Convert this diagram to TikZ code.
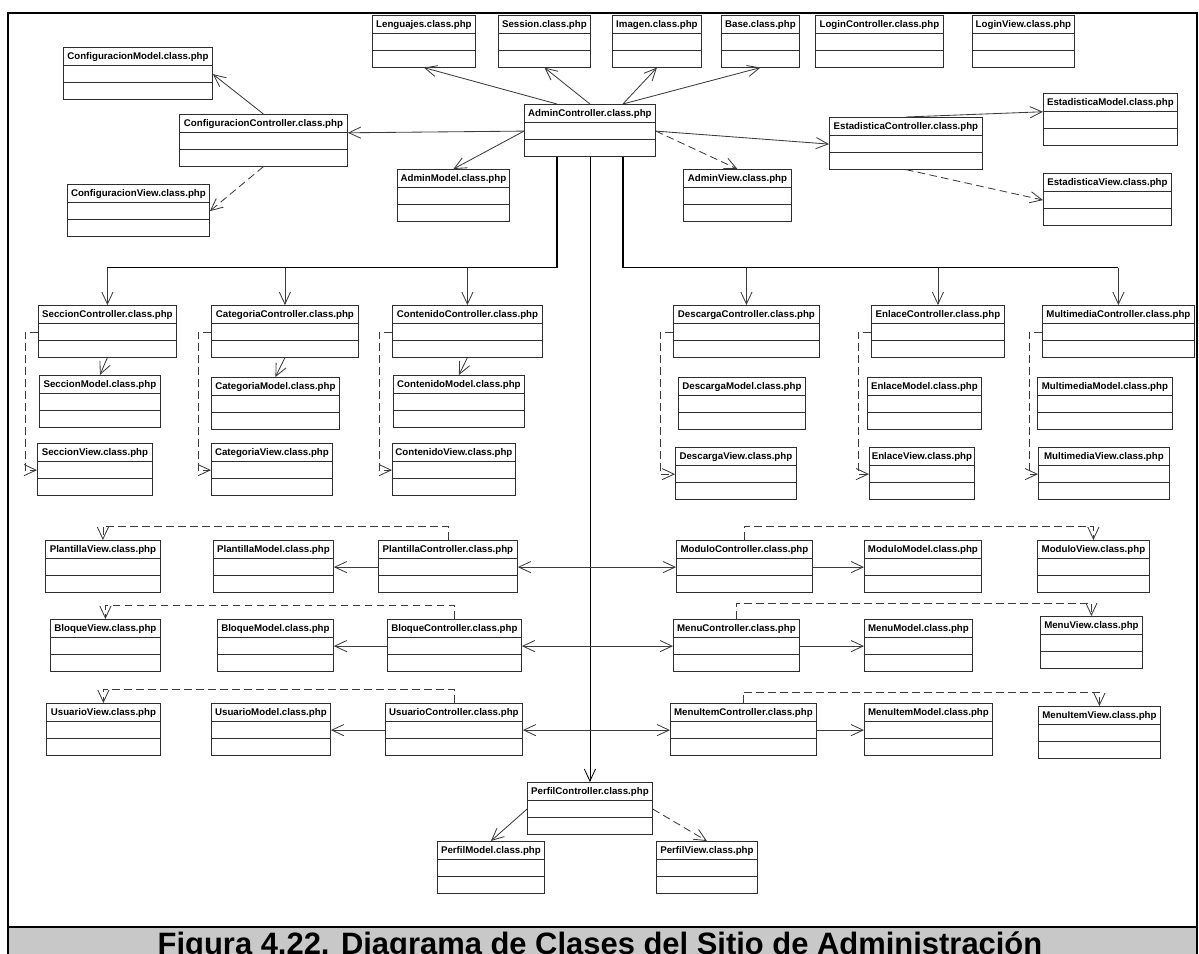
\documentclass[tikz,border=0pt]{standalone}
\usepackage{fontspec}
\setmainfont{Liberation Sans}
\usetikzlibrary{shapes.multipart,arrows.meta,calc}
\definecolor{lineGray}{HTML}{3C3C3C}
\definecolor{boxGray}{HTML}{2E2E2E}
\definecolor{captionGray}{HTML}{C8C8C8}

\begin{document}
\begin{tikzpicture}[
    x=0.25mm, y=-0.25mm,
    cls/.style={rectangle split, rectangle split parts=3, draw=boxGray,
                line width=0.6pt, fill=white, anchor=north west,
                minimum width=#1*0.25mm, inner xsep=1pt, inner ysep=3pt,
                rectangle split empty part height=4.7pt,
                rectangle split empty part depth=0pt,
                font=\bfseries\fontsize{6.9}{8}\selectfont},
    arrow/.style={-{Straight Barb[length=3mm,width=2.8mm]}, draw=lineGray,
                  line width=0.6pt},
    dep/.style={arrow, dash pattern=on 1.9mm off 1.1mm},
    trunk/.style={line width=0.9pt, draw=black},
]
    \useasboundingbox (0,0) rectangle (1199,954);
    % frame and caption band
    \fill[captionGray] (8,927) rectangle (1197,954);
    \draw[line width=1.8pt] (8,954) -- (8,13) -- (1197,13) -- (1197,954);
    \draw[line width=1.6pt] (8,927) -- (1197,927);
    \node[anchor=base, font=\bfseries\fontsize{22}{26}\selectfont] (caption)
         at (600,954) {Figura 4.22. Diagrama de Clases del Sitio de Administración};

    % top row
    \node[cls=103] (lang) at (372,15) {Lenguajes.class.php};
    \node[cls=92] (session) at (498,15) {Session.class.php};
    \node[cls=89] (imagen) at (612,15) {Imagen.class.php};
    \node[cls=78] (base) at (721,15) {Base.class.php};
    \node[cls=128] (loginCtrl) at (815,15) {LoginController.class.php};
    \node[cls=102] (loginView) at (972,15) {LoginView.class.php};

    % admin and neighbours
    \node[cls=131] (adminCtrl) at (524,104) {AdminController.class.php};
    \node[cls=112] (adminModel) at (397,169) {AdminModel.class.php};
    \node[cls=108] (adminView) at (683,169) {AdminView.class.php};
    \node[cls=149] (cfgModel) at (63,47) {ConfiguracionModel.class.php};
    \node[cls=168] (cfgCtrl) at (179,114) {ConfiguracionController.class.php};
    \node[cls=142] (cfgView) at (67,184) {ConfiguracionView.class.php};
    \node[cls=153] (estCtrl) at (829,117) {EstadisticaController.class.php};
    \node[cls=134] (estModel) at (1043,93) {EstadisticaModel.class.php};
    \node[cls=128] (estView) at (1043,173) {EstadisticaView.class.php};

    % column groups
    \node[cls=138] (seccCtrl) at (38,305) {SeccionController.class.php};
    \node[cls=121] (seccModel) at (39,375) {SeccionModel.class.php};
    \node[cls=115] (seccView) at (37,443) {SeccionView.class.php};
    \node[cls=147] (catCtrl) at (211,305) {CategoriaController.class.php};
    \node[cls=128] (catModel) at (211,377) {CategoriaModel.class.php};
    \node[cls=121] (catView) at (211,443) {CategoriaView.class.php};
    \node[cls=150] (contCtrl) at (392,305) {ContenidoController.class.php};
    \node[cls=131] (contModel) at (393,375) {ContenidoModel.class.php};
    \node[cls=123] (contView) at (392,443) {ContenidoView.class.php};
    \node[cls=146] (descCtrl) at (673,305) {DescargaController.class.php};
    \node[cls=127] (descModel) at (678,377) {DescargaModel.class.php};
    \node[cls=121] (descView) at (675,447) {DescargaView.class.php};
    \node[cls=133] (enlCtrl) at (871,305) {EnlaceController.class.php};
    \node[cls=114] (enlModel) at (867,377) {EnlaceModel.class.php};
    \node[cls=105] (enlView) at (869,447) {EnlaceView.class.php};
    \node[cls=152] (multCtrl) at (1042,305) {MultimediaController.class.php};
    \node[cls=135] (multModel) at (1037,377) {MultimediaModel.class.php};
    \node[cls=131] (multView) at (1038,447) {MultimediaView.class.php};

    % row groups
    \node[cls=115] (plView) at (45,540) {PlantillaView.class.php};
    \node[cls=120] (plModel) at (213,540) {PlantillaModel.class.php};
    \node[cls=139] (plCtrl) at (378,540) {PlantillaController.class.php};
    \node[cls=110] (bqView) at (50,619) {BloqueView.class.php};
    \node[cls=116] (bqModel) at (217,619) {BloqueModel.class.php};
    \node[cls=134] (bqCtrl) at (387,619) {BloqueController.class.php};
    \node[cls=114] (usView) at (46,703) {UsuarioView.class.php};
    \node[cls=119] (usModel) at (211,703) {UsuarioModel.class.php};
    \node[cls=137] (usCtrl) at (385,703) {UsuarioController.class.php};
    \node[cls=136] (modCtrl) at (676,540) {ModuloController.class.php};
    \node[cls=117] (modModel) at (864,540) {ModuloModel.class.php};
    \node[cls=112] (modView) at (1037,540) {ModuloView.class.php};
    \node[cls=126] (menuCtrl) at (673,619) {MenuController.class.php};
    \node[cls=108] (menuModel) at (864,619) {MenuModel.class.php};
    \node[cls=102] (menuView) at (1040,616) {MenuView.class.php};
    \node[cls=146] (miCtrl) at (670,703) {MenuItemController.class.php};
    \node[cls=128] (miModel) at (864,703) {MenuItemModel.class.php};
    \node[cls=122] (miView) at (1038,706) {MenuItemView.class.php};

    % perfil
    \node[cls=125] (perfCtrl) at (527,782) {PerfilController.class.php};
    \node[cls=107] (perfModel) at (437,841) {PerfilModel.class.php};
    \node[cls=101] (perfView) at (656,841) {PerfilView.class.php};

    % admin links
    \draw[arrow] ($(adminCtrl.north)+(-33,0)$) -- (lang.south);
    \draw[arrow] (adminCtrl.north) -- (session.south);
    \draw[arrow] ($(adminCtrl.north)+(33,0)$) -- (imagen.south);
    \draw[arrow] ($(adminCtrl.north)+(33,0)$) -- (base.south);
    \draw[arrow] (adminCtrl.two west) -- (cfgCtrl.text split east);
    \draw[arrow] (adminCtrl.two west) -- (adminModel.north);
    \draw[dep] (adminCtrl.two east) -- (adminView.north);
    \draw[arrow] (adminCtrl.two east) -- (estCtrl.two west);
    \draw[arrow] (cfgCtrl.north) -- (cfgModel.two east);
    \draw[dep] (cfgCtrl.south) -- (cfgView.two east);
    \draw[arrow] (estCtrl.north) -- (estModel.text split west);
    \draw[dep] (estCtrl.south) -- (estView.two west);

    % buses
    \coordinate (lbus) at ($(adminCtrl.south)+(-33,111)$);
    \coordinate (rbus) at ($(adminCtrl.south)+(33,111)$);
    \draw[trunk] ($(adminCtrl.south)+(-33,0)$) -- (lbus) -- (lbus -| seccCtrl.north);
    \draw[trunk] ($(adminCtrl.south)+(33,0)$) -- (rbus) -- (rbus -| multCtrl.north);
    \foreach \c in {seccCtrl,catCtrl,contCtrl}
        \draw[arrow] (lbus -| \c.north) -- (\c.north);
    \foreach \c in {descCtrl,enlCtrl,multCtrl}
        \draw[arrow] (rbus -| \c.north) -- (\c.north);
    \draw[trunk, arrow, draw=black] (adminCtrl.south) -- (perfCtrl.north);

    % column groups
    \foreach \g in {secc,cat,cont}
        \draw[arrow] (\g Ctrl.south) -- (\g Model.north);
    \foreach \g in {secc,cat,cont,desc,enl,mult}
        \draw[dep] (\g Ctrl.two west) -- ++(-13,0) |- (\g View.two west);

    % row groups
    \foreach \g in {pl,bq,us} {
        \draw[arrow] (adminCtrl.south |- \g Ctrl.two east) -- (\g Ctrl.two east);
        \draw[arrow] (\g Ctrl.two west) -- (\g Model.two east);
        \draw[dep] (\g Ctrl.north) -- ++(0,-14) -| (\g View.north);
    }
    \foreach \g in {mod,menu,mi} {
        \draw[arrow] (adminCtrl.south |- \g Ctrl.two west) -- (\g Ctrl.two west);
        \draw[arrow] (\g Ctrl.two east) -- (\g Model.two west);
    }
    \draw[dep] (modCtrl.north) -- ++(0,-14) -| (modView.north);
    \draw[dep] (menuCtrl.north) -- ++(0,-16) -| (menuView.north);
    \draw[dep] (miCtrl.north) -- ++(0,-11) -| (miView.north);

    % perfil
    \draw[arrow] (perfCtrl.two west) -- (perfModel.north);
    \draw[dep] (perfCtrl.two east) -- (perfView.north);
\end{tikzpicture}
\end{document}
